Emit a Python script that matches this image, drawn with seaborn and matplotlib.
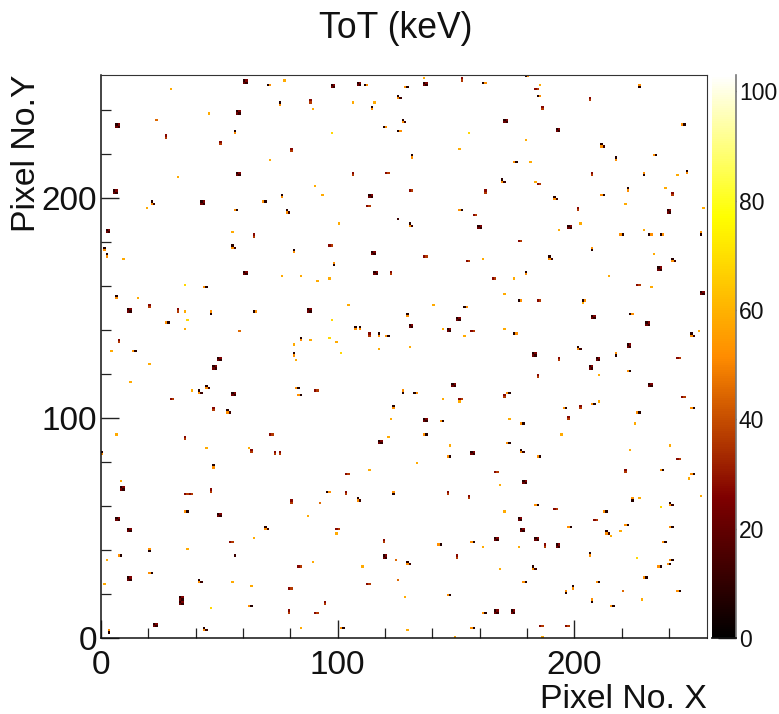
import numpy as np
import matplotlib
matplotlib.use("Agg")
import matplotlib.pyplot as plt
from matplotlib.colors import LinearSegmentedColormap
import seaborn as sns

# hit centres (pixel no.), grouped by cluster shape
dots_x = [77.4,29.3,106.2,115.2,89.3,45.1,71.4,32.2,90.3,93.2,19.3,100.1,55.4,9.4,76.5,84.4,96.3,91.3,15.3,35.2,104.2,35.2,88.3,99.3,81.4,117.2,4.4,82.4,
          136.4,185.2,179.2,151.5,181.2,243.2,183.3,238.4,221.4,254.1,202.5,193.7,229.3,233.3,161.3,174.2,214.5,232.4,170.2,140.5,144.4,170.2,153.3,252,130.5,203.5,
          20.3,12.4,38.1,122.5,121.5,6.5,44.2,62.4,113.2,8.3,87.3,99.3,64.6,36.1,2.4,89.3,110.1,55.4,63.4,1.4,84.4,
          210.6,144.4,151.5,210.6,172.2,225.3,194.7,147.4,223.4,240.4,133.5,248.2,168.2,253.1,227.3,170.2,219.4,215.3,161.3,176,168.2,128.6,228.4,129.5,149.4,186.2]
dots_y = [253.3,249.7,243.8,243.8,240.5,238.5,217.6,209.4,205.8,201.5,195.6,188.6,184.3,172.6,164.5,164.5,163.5,162.4,154.4,148.5,151.7,140.5,135.6,134.5,133.5,131.4,130.3,126.7,
          254.4,251.8,226.7,222.3,216.5,210.6,207.3,204.7,197.7,195.6,188.6,185.5,185.5,174.7,172.6,163.5,164.5,159.7,156.5,151.7,140.5,140.5,137.3,139.4,132.4,152.7,
          124.4,116.4,112.6,99.2,91.2,92.3,86.4,86.4,76.2,71.4,55.5,47.3,45.3,40.5,35.6,34.5,32.4,25.5,23.2,24.4,4.5,
          119.7,108.3,107,107,99.2,97.6,92.3,87.4,85.3,87.4,79.4,72.4,69.2,64.5,63.5,57.6,48.3,46.2,41.5,41.5,31.2,18.5,17.4,3.5,0.3,0.3]
dim_dots_x = [23.3,58.5,92.3,124.6,125.6,220.4]
dim_dots_y = [235.8,139.4,61.2,35.6,26.4,21.2]
pale_dots_x = [97.2,35.2,97.2,36.1,96.3,101.3,155.4,46.1,236.3,226.4]
pale_dots_y = [229.7,160.5,144.5,144.5,136.5,129.5,229.7,13.3,59.4,36.4]
black_dots_x = [56.7,125.6]
black_dots_y = [37.1,190]

squares_x = [61,97.7,108.7,57.9,6.9,57.9,5.9,113.6,42.6,3,114.6,61,115.6,12,87.8,50.2,
             137,170.7,193.2,239.8,159.9,198,235.9,253.7,150.9,208,230.8,131.1,147,223,182.7,210,
             47.8,56,117.7,50.2,6.9,12,119.8,11.8,33.8,33.8,22.8,8.9,
             207,148.9,231.8,137,156.8,178.6,176.8,177.8,166.8,183.7,193.2,166.8,173.7]
squares_y = [253.2,251.2,252,239,233,211,203,200.9,198,184.8,175,166.2,166.2,149,149,126.7,
             252,235,230.9,194,187,187,168,157,145,145.8,143,142,139.8,132.9,129,127.4,
             122.9,111,89.2,55.9,53.8,48.9,36.8,27,18.5,16.5,5.8,68,
             122.9,114.7,114.7,99,83.8,70.9,53.8,49,44.7,44.7,42,12,12]

corners_x = [125.6,21.8,56,78.8,128.1,211.9,169.6,191.5,131.1,189.7,242,201.7,249.6,41.8,44.7,54.1,108.7,69.8,41.8,44.3,177.8,241,130,214,183]
corners_y = [246,198,178.3,193.5,235.3,223.8,208,200,188,173.2,172.3,131.8,137.7,112.3,114,103,63,49.8,25.8,4.2,84.8,60.9,33.9,47.9,32.5]

# two pixel hits, dark pixel on top / orange pixel on top
v_dark_x = [75.4,114.2,56.5,76.5,1.4,2.4,81.4,6.3,107.3,109.1,117.2,81.4,84.4,131.5,217.4,179.2,222.5,247.2,47.1,0.5,123.6,206.5,199.5,129.7]
v_dark_y = [243.3,241,230.2,201,177,174.4,176,154.8,141,141,137.7,129,136,219.2,218,166.2,204,212,77.9,83.6,105,37.7,22.9,146.8]
v_orange_x = [46.1,98.3,229.3,207.5,20.3,123.6,3.4,224.3,196.6,127.6,227.4,253.3,217.4,207.5]
v_orange_y = [148,169.8,211,176.8,40,66,3,62.6,21,112.3,251.2,184,129,16.8]

# two pixel hits, both pixels red
v_red_x = [88.3,27.3,50.6,80.3,106.2,64.4,122.5,20.3,32.2,113.2,7.3,152.5,186.2,206.5,162.3,193.7,207.5,201.5,241.2,35.2,46.1,103.2,80.3,119.1,94.4,79.5,184.1,170.2,202.7,197.6,221.4,146.6,155.4,187,150.4,47.1,63.4,73.4,75.4]
v_red_y = [244.2,228.3,225,222.1,211.2,183,166.2,151.2,149,137.7,135,254,241,245.2,203,127.4,211,195,202,91,66.8,66,61.8,43.8,15.8,12,119,110,104.8,99.8,75.6,66,64,42,37,104,84.8,83.8,83.8]
h_red_x = [120.8,112.7,96.8,157.9,183.7,131.1,176.8,137,155,165.8,226.9,184.7,156.8,243.7,29.7,90.9,71.9,103.7,35.6,37.6,99.7,55.1,83.8,112.7,79.9,90.9,245.7,151.9,166.8,191.8,209,185.7,197.2,243.7,184.7]
h_red_y = [211.7,196.7,178.5,192.4,249.5,203.6,180.6,173.6,171.5,163.5,160.5,153.3,139.4,127,108.5,112.6,92.3,74.4,65.6,65.6,49.4,43.3,32.4,24.4,22.1,11.5,109.4,108.2,75.2,58.5,53.3,5.3,5.3,81.7,206.5]

# two pixel hits side by side, dark pixel left / orange pixel left
h_dark_x = [70.9,111.5,120.4,125.6,64.8,153.9,174.7,184.7,161.7,204.4,176.8,231.9,236.9,179.6,223.9,132.9,96.3]
h_dark_y = [251.7,251.7,232.4,230.2,148.5,150.6,138.3,246.2,252.6,153.3,153.3,183.6,183.6,255.6,147.4,111.7,66.8]
h_orange_x = [43.6,27.7,13.6,120.8,57,68.9,129,245.7,233.9,174.8,211.9,151.9,219.9,8,35.6,83.7,82.8,20.7,63,101.8,171.6,196,249.8,226.9,208,137,171.7,147,184.7,236.9,250.4,183.7,213,198,221.8,240.8,237.8,143,240.8,239.8,235.9,229.8,178.6,209.9,147,243.7,216,161.7,156.8,144,177.8,156.8,223.3]
h_orange_y = [159.7,143.6,130.3,137.3,194.4,198.6,250.8,233.6,219.7,216.5,201.5,194.4,183,37.1,57.6,110.5,113.3,29,14.1,4.5,111.5,104.5,104.5,102.6,106.2,92.3,88.5,82.4,82.4,76.2,74.4,60,57.6,50.6,51.5,50.6,43.3,42.6,35.9,33.5,32.4,27.6,25.5,25.5,19.5,21.2,14.1,11.5,4.5,98.5,97.9,43.8,121.5]

# typical ToT of the pixels in each shape (keV)
dot_tot = 58
dim_tot = 45
pale_tot = 68
black_tot = 12
square_tot = [22, 10, 8, 25]
corner_tot = [8, 52, 12]
pair_dark_tot = 7
pair_orange_tot = 52
red_tot = [27, 36]

n_pixels = 256
tot_max = 103
x_ticks = [0, 100, 200]
y_ticks = [0, 100, 200]
minor_ticks = [20, 40, 60, 80, 120, 140, 160, 180, 220, 240]
cbar_ticks = [0, 20, 40, 60, 80, 100]

grid = np.full((n_pixels, n_pixels), np.nan)

def put(x, y, val):
    if 0 <= x < n_pixels and 0 <= y < n_pixels:
        grid[y, x] = val

for xs, ys, val in [(dots_x, dots_y, dot_tot), (dim_dots_x, dim_dots_y, dim_tot),
                    (pale_dots_x, pale_dots_y, pale_tot), (black_dots_x, black_dots_y, black_tot)]:
    for x, y in zip(xs, ys):
        put(int(x), int(y), val)

for x, y in zip(squares_x, squares_y):
    x0, y0 = round(x) - 1, round(y) - 1
    put(x0, y0, square_tot[0]); put(x0 + 1, y0, square_tot[1])
    put(x0, y0 + 1, square_tot[2]); put(x0 + 1, y0 + 1, square_tot[3])

for x, y in zip(corners_x, corners_y):
    x0, y0 = round(x) - 1, round(y) - 1
    put(x0, y0 + 1, corner_tot[0]); put(x0, y0, corner_tot[1]); put(x0 + 1, y0, corner_tot[2])

for x, y in zip(v_dark_x, v_dark_y):
    put(int(x), round(y), pair_dark_tot); put(int(x), round(y) - 1, pair_orange_tot)
for x, y in zip(v_orange_x, v_orange_y):
    put(int(x), round(y), pair_orange_tot); put(int(x), round(y) - 1, pair_dark_tot)
for x, y in zip(v_red_x, v_red_y):
    put(int(x), round(y), red_tot[0]); put(int(x), round(y) - 1, red_tot[1])
for x, y in zip(h_red_x, h_red_y):
    put(round(x) - 1, int(y), red_tot[0]); put(round(x), int(y), red_tot[1])
for x, y in zip(h_dark_x, h_dark_y):
    put(round(x) - 1, int(y), pair_dark_tot); put(round(x), int(y), pair_orange_tot)
for x, y in zip(h_orange_x, h_orange_y):
    put(round(x) - 1, int(y), pair_orange_tot); put(round(x), int(y), pair_dark_tot)

sns.set_theme(style="white")
plt.rcParams['font.family'] = ['Liberation Sans', 'DejaVu Sans']

# ROOT dark body radiator palette
radiator = LinearSegmentedColormap.from_list(
    "radiator", [(0, (0, 0, 0)), (0.25, (0.5, 0, 0)), (0.5, (1, 0.55, 0)), (0.75, (1, 1, 0)), (1, (1, 1, 1))])

W, H = 779, 714
fig = plt.figure(figsize=(W / 100, H / 100), dpi=100, facecolor="white")
ax = fig.add_axes([101 / W, (H - 638) / H, 606 / W, 563 / H])
cax = fig.add_axes([712 / W, (H - 638) / H, 24 / W, 563 / H])

sns.heatmap(grid, ax=ax, cbar_ax=cax, cmap=radiator, vmin=0, vmax=tot_max,
            xticklabels=False, yticklabels=False)

ax.set_xlim(0, n_pixels)
ax.set_ylim(0, n_pixels)
ax.set_xticks(x_ticks)
ax.set_xticklabels([str(t) for t in x_ticks])
ax.set_yticks(y_ticks)
ax.set_yticklabels([str(t) for t in y_ticks])
ax.set_xticks(minor_ticks, minor=True)
ax.set_yticks(minor_ticks, minor=True)
ax.tick_params(which="major", direction="in", length=13, width=1, color="#222222",
               labelsize=24, labelcolor="#111111", bottom=True, left=True)
ax.tick_params(axis="x", which="major", pad=9)
ax.tick_params(axis="y", which="major", pad=3)
ax.tick_params(which="minor", direction="in", length=7, width=0.9, color="#222222",
               bottom=True, left=True)
for side, spine in ax.spines.items():
    spine.set_visible(True)
    spine.set_color("#111111" if side in ("left", "bottom") else "#333333")
    spine.set_linewidth(1.1 if side in ("left", "bottom") else 0.8)

ax.set_xlabel("Pixel No. X", fontsize=24.3, color="#111111", loc="right")
ax.xaxis.set_label_coords(1.0, -0.082)
ax.set_ylabel("Pixel No.Y", fontsize=24.3, color="#111111", loc="top")
ax.yaxis.set_label_coords(-0.097, 1.0)

fig.text(396 / W, 1 - 28 / H, "ToT (keV)", fontsize=25.6, color="#111111", ha="center", va="center")

cbar = ax.collections[0].colorbar
cbar.set_ticks(cbar_ticks)
cbar.minorticks_off()
cax.tick_params(direction="in", length=13, width=1, color="#222222", labelsize=16.5,
                labelcolor="#111111", right=True, pad=2)
cbar.outline.set_visible(False)
cax.spines["right"].set_visible(True)
cax.spines["right"].set_color("#777777")
cax.spines["right"].set_linewidth(1.2)
cax.spines["bottom"].set_visible(True)
cax.spines["bottom"].set_color("#111111")

fig.savefig("out.png", dpi=100)
